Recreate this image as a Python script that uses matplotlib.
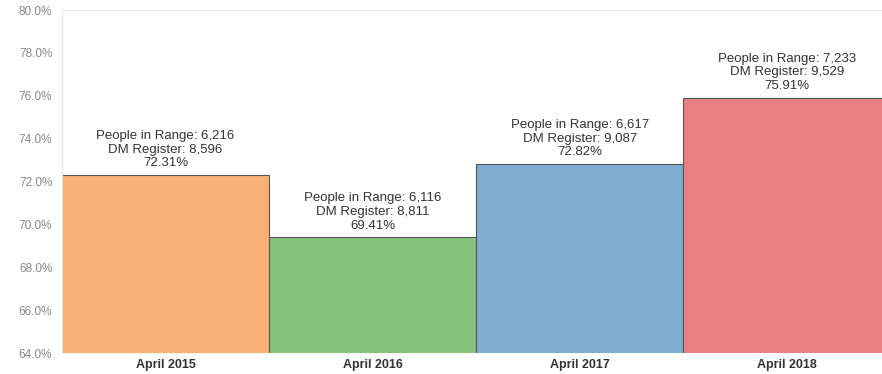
import matplotlib.pyplot as plt
from matplotlib.ticker import FuncFormatter

plt.rcParams['font.family'] = ['Liberation Sans', 'DejaVu Sans']

periods = ['April 2015', 'April 2016', 'April 2017', 'April 2018']
in_range = [6216, 6116, 6617, 7233]
register = [8596, 8811, 9087, 9529]
pct = [72.31, 69.41, 72.82, 75.91]
colors = ['#f9b074', '#86c47e', '#7eadd3', '#e88083']

fig = plt.figure(figsize=(8.82, 3.74), dpi=100)
ax = fig.add_axes([0.0703, 0.0561, 0.9297, 0.917])

x = range(len(periods))
ax.bar(x, pct, width=1.0, color=colors, edgecolor='#555555', linewidth=0.8)

for i in x:
    label = 'People in Range: {:,}\nDM Register: {:,}\n{:.2f}%'.format(in_range[i], register[i], pct[i])
    ax.annotate(label, (i, pct[i]), xytext=(0, 4), textcoords='offset points',
                ha='center', va='bottom', fontsize=9.5, color='#333333', linespacing=1.2)

ax.set_xlim(-0.5, 3.46)
ax.set_ylim(64, 80)
ax.set_yticks([64, 66, 68, 70, 72, 74, 76, 78, 80])
ax.yaxis.set_major_formatter(FuncFormatter(lambda v, p: '%.1f%%' % v))
ax.set_xticks(list(x))
ax.set_xticklabels(periods, fontsize=9, fontweight='bold', color='#333333')
ax.tick_params(axis='y', labelsize=8.5, colors='#888888', length=0, pad=7)
ax.tick_params(axis='x', length=0, pad=4)

for s in ['right', 'bottom']:
    ax.spines[s].set_visible(False)
ax.spines['left'].set_color('#e4e4e4')
ax.spines['top'].set_color('#e6e6e6')

fig.savefig('out.png', dpi=100)
